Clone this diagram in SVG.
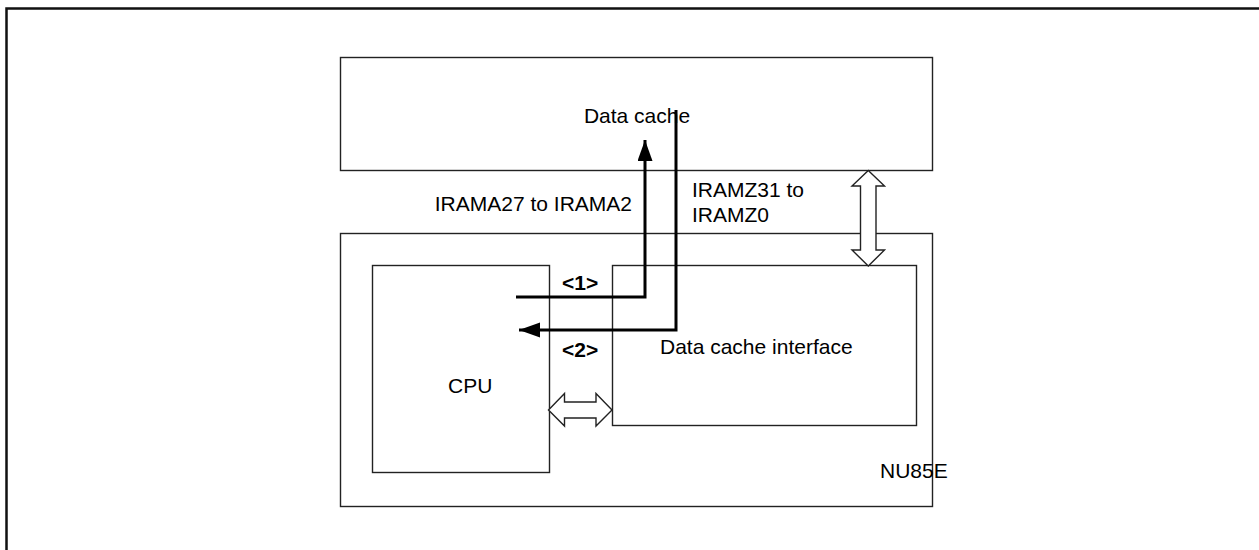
<svg xmlns="http://www.w3.org/2000/svg" width="1259" height="550" viewBox="0 0 1259 550">
<style>
.box{fill:none;stroke:#222;stroke-width:1.4}
.t{font-family:"Liberation Sans",Arial,sans-serif;font-size:21px;fill:#000}
.b{font-weight:bold}
.sig{fill:none;stroke:#000;stroke-width:3}
.dbl{fill:#fff;stroke:#222;stroke-width:1.4;stroke-linejoin:miter}
</style>
<defs>
<marker id="ah" markerWidth="22" markerHeight="16" refX="21" refY="7.5" orient="auto" markerUnits="userSpaceOnUse">
<path d="M0,0 L21,7.5 L0,15 Z" fill="#000"/>
</marker>
</defs>
<rect width="1259" height="550" fill="#fff"/>
<polyline points="6.5,550 6.5,8.5 1259,8.5" fill="none" stroke="#111" stroke-width="2.5"/>
<g id="datacache">
<rect class="box" x="340.5" y="57.5" width="592" height="113"/>
<text class="t" x="637" y="123" text-anchor="middle">Data cache</text>
</g>
<g id="nu85e">
<rect class="box" x="340.5" y="233.5" width="592" height="273"/>
<text class="t" x="880" y="478">NU85E</text>
</g>
<g id="cpu">
<rect class="box" x="372.5" y="265.5" width="177" height="207"/>
<text class="t" x="448" y="393">CPU</text>
</g>
<g id="dci">
<rect class="box" x="612.5" y="265.5" width="304" height="160"/>
<text class="t" x="660" y="354">Data cache interface</text>
</g>
<g id="connectors">
<polyline class="sig" points="516,297 645,297 645,140" marker-end="url(#ah)"/>
<polyline class="sig" points="676,110 676,330 519,330" marker-end="url(#ah)"/>
<path class="dbl" d="M868.3,170.5 L884.5,186 L876,186 L876,250 L884.5,250 L868.3,266 L852,250 L860.5,250 L860.5,186 L852,186 Z"/>
<path class="dbl" d="M548.5,410 L564.5,393.5 L564.5,402 L596,402 L596,393.5 L612,410 L596,426 L596,418 L564.5,418 L564.5,426 Z"/>
<text class="t" x="632" y="211" text-anchor="end">IRAMA27 to IRAMA2</text>
<text class="t" x="692" y="197">IRAMZ31 to</text>
<text class="t" x="692" y="222">IRAMZ0</text>
<text class="t b" x="562" y="290">&lt;1&gt;</text>
<text class="t b" x="562" y="357">&lt;2&gt;</text>
</g>
</svg>
